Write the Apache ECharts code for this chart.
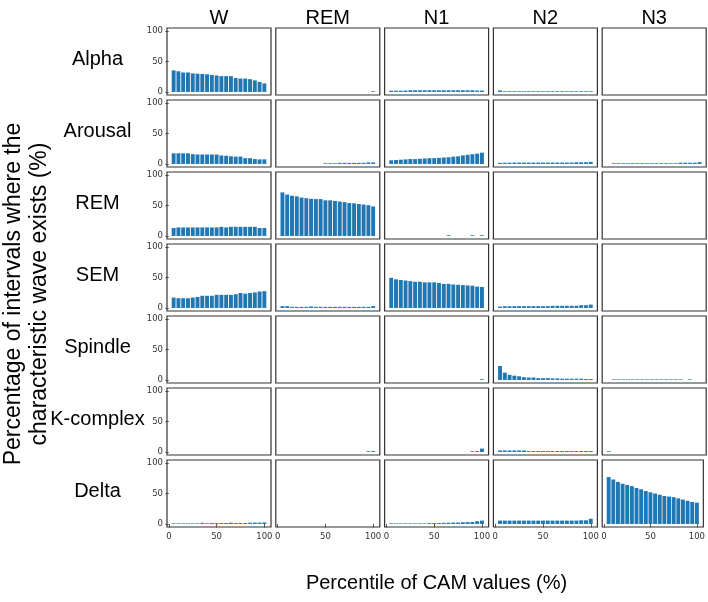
<!DOCTYPE html>
<html>
<head>
<meta charset="utf-8">
<script src="https://cdn.jsdelivr.net/npm/echarts@6/dist/echarts.min.js"></script>
<style>html,body{margin:0;padding:0;background:#fff}#chart{width:708px;height:602px}</style>
</head>
<body>
<div id="chart"></div>
<script>
// ---- data ----
const stages = ['W', 'REM', 'N1', 'N2', 'N3'];
const waves = ['Alpha', 'Arousal', 'REM', 'SEM', 'Spindle', 'K-complex', 'Delta'];
const percentiles = [5, 10, 15, 20, 25, 30, 35, 40, 45, 50, 55, 60, 65, 70, 75, 80, 85, 90, 95, 100];
const tickValues = [0, 50, 100];

const alpha_W   = [35.5, 34, 32, 32, 30.5, 30, 29.5, 29, 28, 27, 26, 26, 26, 23, 22, 22, 21, 19, 16.5, 14];
const alpha_REM = [0, 0, 0, 0, 0, 0, 0, 0, 0, 0, 0, 0, 0, 0, 0, 0, 0, 0, 0, 1.2];
const alpha_N1  = [2, 2, 2, 2.3, 2.8, 2.8, 2.8, 2.8, 2.8, 2.8, 2.8, 2.8, 2.8, 2.8, 2.8, 2.8, 2.8, 2.8, 2.3, 2.3];
const alpha_N2  = [2.5, 1.2, 1.2, 1.2, 1.2, 1.2, 1.2, 1.2, 1.2, 1.2, 1.2, 1.2, 1.2, 1.2, 1.2, 1.2, 1.2, 1.2, 1.2, 1.2];
const alpha_N3  = [0, 0, 0, 0, 0, 0, 0, 0, 0, 0, 0, 0, 0, 0, 0, 0, 0, 0, 0, 0];

const arousal_W   = [17.5, 17.5, 17.5, 17.5, 16, 15.5, 15.5, 15.5, 15.5, 15.5, 14, 13.5, 12.5, 12, 12, 9.5, 9.5, 8, 7.5, 7.5];
const arousal_REM = [0, 0, 0, 0, 0, 0, 0, 0, 0, 1.2, 1.2, 1.2, 1.8, 1.8, 1.8, 1.8, 1.8, 1.8, 2.5, 2.5];
const arousal_N1  = [6, 6.5, 7, 7.5, 8, 8, 8.5, 9, 9.5, 9.5, 10, 10.5, 11, 12, 12.5, 14, 15, 16, 17, 18.5];
const arousal_N2  = [1.8, 2, 2, 2.3, 2.3, 2.3, 2.3, 2.3, 2.3, 2.3, 2.3, 2.3, 2.3, 2.3, 2.3, 2.3, 2.8, 2.8, 2.8, 3.5];
const arousal_N3  = [0, 1.2, 1.2, 1.2, 1.2, 1.2, 1.2, 1.2, 1.2, 1.2, 1.2, 1.2, 1.2, 1.2, 1.2, 2, 2, 2, 2, 3];

const rem_W   = [13, 14, 14, 14, 14, 14, 14, 14, 14, 14, 15, 14, 15, 15, 15, 15, 15, 15, 13, 13];
const rem_REM = [71.5, 68, 66, 65, 63, 62, 61, 60.5, 60.5, 58.5, 58.5, 57.5, 56.5, 55.5, 54, 53.5, 52.5, 51.5, 50.5, 48.5];
const rem_N1  = [0, 0, 0, 0, 0, 0, 0, 0, 0, 0, 0, 0, 1.2, 0, 0, 0, 0, 1.2, 0, 1.2];
const rem_N2  = [0, 0, 0, 0, 0, 0, 0, 0, 0, 0, 0, 0, 0, 0, 0, 0, 0, 0, 0, 0];
const rem_N3  = [0, 0, 0, 0, 0, 0, 0, 0, 0, 0, 0, 0, 0, 0, 0, 0, 0, 0, 0, 0];

const sem_W   = [17, 16, 16, 16, 17, 18, 20, 20, 20, 21.5, 21.5, 21.5, 21.5, 22.5, 24.5, 23.5, 24.5, 25.5, 27, 27.5];
const sem_REM = [3, 3, 1.8, 1.8, 1.8, 1.8, 2.5, 1.8, 1.8, 1.8, 1.8, 1.8, 1.8, 1.8, 1.8, 1.8, 1.8, 1.8, 1.8, 3];
const sem_N1  = [49.5, 47, 46, 45, 44, 43, 43, 42, 42, 42, 41, 39.5, 39.5, 38.5, 38, 37.5, 37, 36.5, 35, 34.5];
const sem_N2  = [2.3, 2.8, 2.8, 3, 3, 3, 3, 3, 3, 3, 3, 3.5, 3.5, 3.5, 3.5, 3.5, 3.5, 4.5, 4.5, 5.5];
const sem_N3  = [0, 0, 0, 0, 0, 0, 0, 0, 0, 0, 0, 0, 0, 0, 0, 0, 0, 0, 0, 0];

const spindle_W   = [0, 0, 0, 0, 0, 0, 0, 0, 0, 0, 0, 0, 0, 0, 0, 0, 0, 0, 0, 0];
const spindle_REM = [0, 0, 0, 0, 0, 0, 0, 0, 0, 0, 0, 0, 0, 0, 0, 0, 0, 0, 0, 0];
const spindle_N1  = [0, 0, 0, 0, 0, 0, 0, 0, 0, 0, 0, 0, 0, 0, 0, 0, 0, 0, 0, 1.2];
const spindle_N2  = [23, 12, 8.5, 7, 6, 4.5, 4, 4, 3, 3, 3, 2.5, 2.5, 2, 2, 2, 2, 2, 1.5, 1.5];
const spindle_N3  = [0, 1, 1, 1, 1, 1, 1, 1, 1, 1, 1, 1, 1, 1, 1, 1, 0, 1, 0, 0];

const kcomplex_W   = [0, 0, 0, 0, 0, 0, 0, 0, 0, 0, 0, 0, 0, 0, 0, 0, 0, 0, 0, 0];
const kcomplex_REM = [0, 0, 0, 0, 0, 0, 0, 0, 0, 0, 0, 0, 0, 0, 0, 0, 0, 0, 1.2, 1.5];
const kcomplex_N1  = [0, 0, 0, 0, 0, 0, 0, 0, 0, 0, 0, 0, 0, 0, 0, 0, 0, 1.2, 1.5, 5.5];
const kcomplex_N2  = [2.5, 2.5, 2.5, 2.5, 2.5, 2.5, 1.5, 1.5, 1.5, 1.5, 1.5, 1.5, 1.5, 1.5, 1.5, 1.5, 1.5, 1.5, 1.5, 1.5];
const kcomplex_N3  = [1.2, 0, 0, 0, 0, 0, 0, 0, 0, 0, 0, 0, 0, 0, 0, 0, 0, 0, 0, 0];

const delta_W   = [1, 1, 1, 1, 1, 1, 1.8, 1.2, 1.5, 1.5, 1.6, 1.6, 2, 1.6, 1.6, 1.6, 2, 2.2, 2.2, 2.5];
const delta_REM = [0, 0, 0, 0, 0, 0, 0, 0, 0, 0, 0, 0, 0, 0, 0, 0, 0, 0, 0, 0];
const delta_N1  = [1, 1, 1, 1, 1, 1, 1, 1, 1.5, 1.5, 1.5, 1.8, 2, 2.3, 2.3, 2.8, 3, 3.2, 4.5, 5.5];
const delta_N2  = [5.5, 5.5, 5.5, 5.5, 5.5, 5.5, 5.5, 5.5, 5.5, 5.5, 5.5, 5.5, 5.5, 5.5, 5.5, 5.5, 5.5, 6, 6, 8.5];
const delta_N3  = [77, 73, 69, 66, 64, 62, 59, 57, 54, 52, 50, 48, 46, 45, 44, 42, 40, 38, 36, 35];

const panelData = [
  [alpha_W, alpha_REM, alpha_N1, alpha_N2, alpha_N3],
  [arousal_W, arousal_REM, arousal_N1, arousal_N2, arousal_N3],
  [rem_W, rem_REM, rem_N1, rem_N2, rem_N3],
  [sem_W, sem_REM, sem_N1, sem_N2, sem_N3],
  [spindle_W, spindle_REM, spindle_N1, spindle_N2, spindle_N3],
  [kcomplex_W, kcomplex_REM, kcomplex_N1, kcomplex_N2, kcomplex_N3],
  [delta_W, delta_REM, delta_N1, delta_N2, delta_N3]
];

// ---- layout ----
const GRID_LEFT = 167, COL_PITCH = 108.8, PANEL_W = 104;
const GRID_TOP = 28, ROW_PITCH = 72, PANEL_H = 67;
const X_MIN = -1.95, X_MAX = 106.95, Y_MIN = -5, Y_MAX = 105;
const BAR_COLOR = '#1f77b4';
const TITLE_FONT = '20px "Liberation Sans", Arial, sans-serif';
const YTITLE_FONT = '23px "Liberation Sans", Arial, sans-serif';

const grids = [], xAxes = [], yAxes = [], series = [], graphics = [];
for (let r = 0; r < waves.length; r++) {
  for (let c = 0; c < stages.length; c++) {
    const idx = grids.length;
    const top = GRID_TOP + r * ROW_PITCH;
    const left = GRID_LEFT + c * COL_PITCH;
    grids.push({
      left: left, top: top, width: PANEL_W, height: PANEL_H,
      show: true, borderColor: '#333', borderWidth: 1.2, backgroundColor: '#fff'
    });
    const isBottom = r === waves.length - 1;
    const isLeft = c === 0;
    xAxes.push({
      type: 'value', gridIndex: idx, min: X_MIN, max: X_MAX,
      axisLine: { show: false },
      splitLine: { show: false },
      axisTick: { show: isBottom, customValues: tickValues, length: 3.5, lineStyle: { color: '#333', width: 0.8 } },
      axisLabel: { show: isBottom, customValues: tickValues, fontSize: 8.5, color: '#333', margin: 5, fontFamily: 'DejaVu Sans' }
    });
    yAxes.push({
      type: 'value', gridIndex: idx, min: Y_MIN, max: Y_MAX,
      axisLine: { show: false },
      splitLine: { show: false },
      axisTick: { show: isLeft, customValues: tickValues, length: 3.5, lineStyle: { color: '#333', width: 0.8 } },
      axisLabel: { show: isLeft, customValues: tickValues, fontSize: 8.5, color: '#333', margin: 4, fontFamily: 'DejaVu Sans' }
    });
    const vals = panelData[r][c];
    series.push({
      type: 'bar', xAxisIndex: idx, yAxisIndex: idx,
      barWidth: 3.9,
      itemStyle: { color: BAR_COLOR },
      silent: true,
      data: percentiles.map((p, i) => [p, vals[i]])
    });
  }
}

// column titles
stages.forEach((s, c) => {
  graphics.push({
    type: 'text', x: GRID_LEFT + c * COL_PITCH + PANEL_W / 2, y: 18,
    style: { text: s, font: TITLE_FONT, fill: '#000', textAlign: 'center', textVerticalAlign: 'middle' }
  });
});
// row titles
waves.forEach((w, r) => {
  graphics.push({
    type: 'text', x: 97.5, y: GRID_TOP + r * ROW_PITCH + PANEL_H / 2 - 2,
    style: { text: w, font: TITLE_FONT, fill: '#000', textAlign: 'center', textVerticalAlign: 'middle' }
  });
});
// y-axis title (two lines, rotated)
const yTitleLines = ['Percentage of intervals where the', 'characteristic wave exists (%)'];
yTitleLines.forEach((t, i) => {
  graphics.push({
    type: 'text', x: 14 + i * 26, y: 294, rotation: Math.PI / 2,
    style: { text: t, font: YTITLE_FONT, fill: '#000', textAlign: 'center', textVerticalAlign: 'middle' }
  });
});
// x-axis title
graphics.push({
  type: 'text', x: 436.5, y: 583,
  style: { text: 'Percentile of CAM values (%)', font: TITLE_FONT, fill: '#000', textAlign: 'center', textVerticalAlign: 'middle' }
});

const chart = echarts.init(document.getElementById('chart'), null, { renderer: 'canvas' });
chart.setOption({
  animation: false,
  backgroundColor: '#fff',
  grid: grids,
  xAxis: xAxes,
  yAxis: yAxes,
  series: series,
  graphic: graphics
});
</script>
</body>
</html>
